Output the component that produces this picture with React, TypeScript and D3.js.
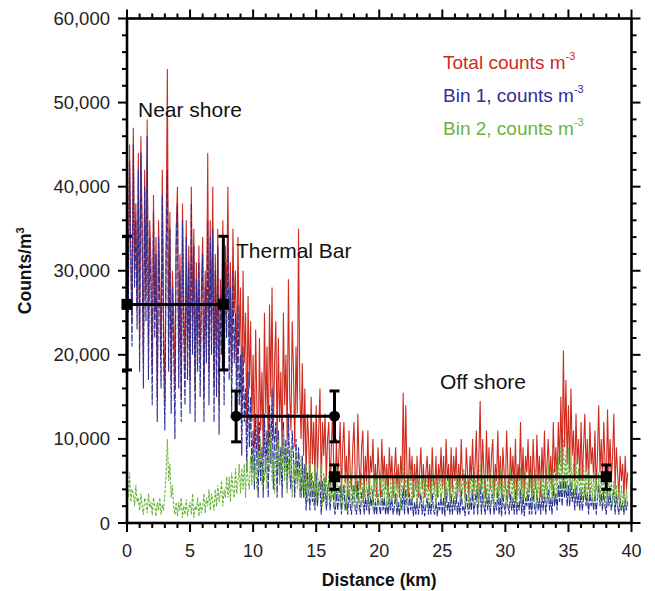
import React from "react";
import * as d3 from "d3";

// Distance grid (km), 0.1 km sampling; one row = 1 km
const STEP_KM = 0.1;

// Total counts (thousands per m^3)
const totalK: number[] = [
  40,28,45,33,24,47,30,38,26,44,
  22,46,35,19,42,27,48,21,36,31,
  18,39,25,34,15,36,29,20,42,24,
  14,33,54,22,37,17,30,25,16,35,
  40,20,32,15,38,26,18,36,21,33,
  17,40,24,35,16,31,22,33,19,28,
  34,15,30,23,44,18,36,24,40,16,
  32,20,35,14,29,24,36,19,33,26,
  40,22,31,18,35,25,30,17,34,21,
  28,13,30,19,25,11,27,16,24,12,
  20,9,23,14,7,22,11,18,8,25,
  13,21,8,26,15,28,10,19,24,9,
  22,12,18,8,25,14,20,10,29,15,
  11,24,18,9,21,13,35,16,10,19,
  8,16,5,13,10,4,15,7,12,5,
  14,6,11,16,4,12,8,13,5,10,
  12,4,9,13,6,3,10,5,8,12,
  3,9,12,5,8,3,11,6,4,9,
  12,5,3,13,7,4,9,11,3,8,
  5,11,3,8,6,10,4,7,3,9,
  6,3,10,5,8,4,7,3,9,5,
  8,3,6,9,4,7,3,8,5,15.5,
  4,14,6,3,9,5,8,3,7,4,
  8,3,6,9,4,7,3,6,8,4,
  7,3,9,5,4,8,3,7,5,9,
  4,8,3,10,5,7,3,9,4,8,
  5,9,3,7,4,10,5,6,3,9,
  6,3,8,5,10,4,7,11,3,8,
  14.5,4,10,6,3,11,5,9,4,8,
  10,3,7,5,11,4,8,3,9,6,
  4,11,6,3,9,5,8,4,10,3,
  7,5,12,4,9,3,8,6,10,4,
  8,3,10,6,4,10.5,5,8,3,9,
  5,11,4,7,10,5,8,4,12,6,
  9,5,12,7,15,6,20.5,9,17,7,
  14,6,16,8,11,5,13,7,10,5,
  12,5,9,13,6,10,4,12,7,9,
  5,11,4,8,14,6,10,5,12,7,
  4,13.5,6,10,5,8,13,4,9,6,
  3,8,5,7,3,8,4,6,
];

// Bin 1 counts (thousands per m^3)
const bin1K: number[] = [
  38,25,43,31,21,45,28,36,23,42,
  18,44,33,16,40,24,46,17,34,28,
  14,37,22,32,12,34,26,16,39,20,
  11,31,42,18,35,13,28,21,10,33,
  38,16,30,12,36,22,14,34,17,31,
  13,38,20,33,12,29,18,31,15,26,
  32,12,28,19,36,14,34,20,35,12,
  30,15,33,10.5,27,20,34,14,31,22,
  34,17,28,13,30,19,25,12,26,14,
  20,8,21,12,16,6,18,9,15,6,
  11,4,13,7,3,12,5,9,3,13,
  6,11,3,14,7,16,4,10,12,3,
  11,5,9,3,12,6,10,4,13,6,
  4,11,8,3,10,5,9,6,3,8,
  3,7,1.5,6,4,1.5,6,2.5,5,1.5,
  6,2,4.5,5,1,5,2.5,5.5,1.5,4,
  5,1.5,3.5,5,2,1,4,1.5,3,4.5,
  1,3.5,4.5,1.5,3,1,4,2,1,3.5,
  4.5,1.5,1,5,2.5,1,3.5,4,1,3,
  1.5,4,1,3,2,4,1,2.5,1,3.5,
  2,1,4,1.5,3,1,2.5,1,3.5,1.5,
  3,1,2,3.5,1,2.5,0.8,3,1.5,4.5,
  1,4,2,1,3.5,1.5,3,0.8,2.5,1,
  3,1,2,3.5,1,2.5,0.8,2,3,1,
  2.5,1,3.5,1.5,1,3,0.8,2.5,1.5,3.5,
  1,3,0.8,4,1.5,2.5,1,3.5,1,3,
  1.5,3.5,1,2.5,1,4,1.5,2,0.8,3.5,
  2,1,3,1.5,4,1,2.5,4,1,3,
  4.5,1,3.5,2,1,4,1.5,3.5,1,3,
  3.5,1,2.5,1.5,4,1,3,0.8,3.5,2,
  1,4,2,1,3.5,1.5,3,1,4,1,
  2.5,1.5,4,1,3.5,0.8,3,2,4,1,
  3,1,4,2,1,4,1.5,3,1,3.5,
  1.5,4,1,2.5,4,1.5,3,1,4.5,2,
  3.5,1.5,4.5,2.5,5,2,5.5,3,5,2,
  4.5,2,5,2.5,4,1.5,4.5,2,3.5,1.5,
  4,1.5,3,4.5,2,3.5,1,4,2,3,
  1.5,4,1,3,4.5,2,3.5,1.5,4,2,
  1,4,2,3.5,1.5,3,4,1,3.5,2,
  1,3,1.5,2.5,1,3,1.5,2.5,
];

// Bin 2 counts (thousands per m^3)
const bin2K: number[] = [
  5,3,6,2.5,4,3.5,2,4.5,2.5,3,
  1.5,3.5,2,1,3,2.5,1.2,3.5,1.8,2.5,
  1,3,2,0.8,2.5,1.5,3,1,2.2,1.5,
  3.5,6,10,5,7,3,4.5,2,1,2.5,
  0.8,2.5,1.5,3,0.6,2,1,2.8,0.8,1.8,
  2.5,1,3.5,0.6,2,1.5,3,0.8,2.5,1.2,
  2,3.5,1.2,3,2,4,1.5,3.5,2.5,1.5,
  4,2,4.5,2.5,3.5,5,2,4,3,5.5,
  3,5.5,2.5,6,4,3,6.5,3.5,5,7,
  3.5,6.5,4,7,3,7.5,5,4,8,4.5,
  9,5,7,4,8.5,6,10,4.5,7.5,5,
  8,4,9.5,6,11,5,8,3.5,9,6,
  10,4.5,8,6,11,5,9,3.5,7.5,5.5,
  9,3,7,5,8.5,4,6.5,3,8,4,
  6.5,3,7,2.5,5,8,3,6,2,7,
  2.5,6.5,3,5,7,2,6,3.5,5.5,2,
  6,2.5,7,3,5,2,6.5,3,4.5,2,
  5.5,2,4,6,1.5,5,3,6.5,2,4.5,
  2,6,3.5,1.5,5.5,3,6,2,4.5,3,
  5,2,6,3,4.5,1.5,5.5,2.5,6,2,
  4,6,2,5,3,6.5,2,4.5,1.5,5.5,
  2.5,5,3,6,2,4.5,6,1.5,5,7,
  3,6,2,5,3.5,6.5,2,5,3,6,
  2,5,3,4.5,6,2,5,3,5.5,2,
  5,2.5,6,3,4.5,2,5.5,3,6,2.5,
  4,6,2,5,3,5.5,2,6,3,4.5,
  2,5.5,3,6,2.5,5,3.5,6.5,2,5,
  4.5,2,6,3,5.5,2,6,3.5,5,2,
  7,3,5.5,2,6,3,5,2,6.5,3,
  5.5,2,6,3,5,2.5,6.5,2,5,3,
  6,2,5,3.5,6.5,2,5.5,3,6,2,
  5,3,6.5,2,5.5,3,6,2.5,5,3,
  6,2,5.5,3,6.5,2,5,3,6,2.5,
  5.5,3,6,2.5,7,3,6,2.5,6.5,3,
  7,3,8,4,9,3.5,10,4,8.5,3.5,
  9,3,8,4,7,3,7.5,3.5,6.5,3,
  6,2.5,7,3,6,2,6.5,3,5.5,2.5,
  6,2.5,5.5,3,6,2,5.5,3,6,2,
  5,2,6,3,5.5,2,5,2.5,4.5,2,
  4,1.5,4.5,2,3.5,1.5,4,2,
];

// Zone means with error bars
const zoneNames = ["Near shore", "Thermal Bar", "Off shore"];
const zoneStart = [0, 8.65, 16.45];
const zoneEnd = [7.64, 16.45, 38.0];
const zoneMean = [26000, 12700, 5500];
const zoneLow = [18200, 9650, 4000];
const zoneHigh = [34100, 15700, 6900];
const zoneMarker = ["square", "circle", "square"];

const xTickLabels = [0, 5, 10, 15, 20, 25, 30, 35, 40];
const yTickLabels = [0, 10000, 20000, 30000, 40000, 50000, 60000];

const FONT = "'Liberation Sans', Arial, Helvetica, sans-serif";
const RED = "#cf2b1f";
const BLUE = "#2d3096";
const GREEN = "#6cb33e";

export default function App() {
  const x = d3.scaleLinear().domain([0, 40]).range([127, 631.5]);
  const y = d3.scaleLinear().domain([0, 60000]).range([523, 18.5]);
  const line = d3
    .line<number>()
    .x((_, i) => x(i * STEP_KM))
    .y((v) => y(v * 1000));

  const minorX = d3.range(0, 41, 1);
  const minorY = d3.range(0, 60001, 2000);
  const [x0, x1] = x.range();
  const [yb, yt] = y.range();
  const fmt = d3.format(",");

  return (
    <div style={{ position: "absolute", left: 0, top: 0 }}>
      <svg width={655} height={591} style={{ display: "block", fontFamily: FONT }}>
        <rect width={655} height={591} fill="#fff" />
        {/* data */}
        <path d={line(totalK) || ""} fill="none" stroke={RED} strokeWidth={1.1} />
        <path d={line(bin1K) || ""} fill="none" stroke={BLUE} strokeWidth={1.1} strokeDasharray="7,1.5" />
        <path d={line(bin2K) || ""} fill="none" stroke={GREEN} strokeWidth={1.1} strokeDasharray="3,1.5" />

        {/* frame */}
        <rect x={x0} y={yt} width={x1 - x0} height={yb - yt} fill="none" stroke="#000" strokeWidth={2.6} />
        {minorX.map((k) => {
          const major = k % 5 === 0;
          const len = major ? 9 : 5;
          return (
            <g key={"xt" + k}>
              <line x1={x(k)} x2={x(k)} y1={yb} y2={yb + len} stroke="#000" strokeWidth={2} />
              <line x1={x(k)} x2={x(k)} y1={yt} y2={yt - len} stroke="#000" strokeWidth={2} />
            </g>
          );
        })}
        {minorY.map((v) => {
          const major = v % 10000 === 0;
          const len = major ? 9 : 5;
          return (
            <g key={"yt" + v}>
              <line x1={x0} x2={x0 - len} y1={y(v)} y2={y(v)} stroke="#000" strokeWidth={2} />
              <line x1={x1} x2={x1 + len} y1={y(v)} y2={y(v)} stroke="#000" strokeWidth={2} />
            </g>
          );
        })}
        {xTickLabels.map((k) => (
          <text key={"xl" + k} x={x(k)} y={557} textAnchor="middle" fontSize={18} fill="#222">
            {k}
          </text>
        ))}
        {yTickLabels.map((v) => (
          <text key={"yl" + v} x={110} y={y(v) + 6.5} textAnchor="end" fontSize={18.5} fill="#222">
            {fmt(v)}
          </text>
        ))}
        <text x={(x0 + x1) / 2} y={586} textAnchor="middle" fontSize={17.5} fontWeight="bold" fill="#111">
          Distance (km)
        </text>
        <text
          transform={`translate(31,${(yt + yb) / 2}) rotate(-90)`}
          textAnchor="middle"
          fontSize={17.5}
          fontWeight="bold"
          fill="#111"
        >
          Counts/m<tspan dy={-7} fontSize={11}>3</tspan>
        </text>

        {/* zone means with error bars */}
        {zoneMean.map((m, i) => {
          const xs = [zoneStart[i], zoneEnd[i]];
          return (
            <g key={"z" + i}>
              <line x1={x(xs[0])} x2={x(xs[1])} y1={y(m)} y2={y(m)} stroke="#000" strokeWidth={3} />
              {xs.map((xv, j) => (
                <g key={j}>
                  <line x1={x(xv)} x2={x(xv)} y1={y(zoneLow[i])} y2={y(zoneHigh[i])} stroke="#000" strokeWidth={3} />
                  <line x1={x(xv) - 5} x2={x(xv) + 5} y1={y(zoneLow[i])} y2={y(zoneLow[i])} stroke="#000" strokeWidth={3} />
                  <line x1={x(xv) - 5} x2={x(xv) + 5} y1={y(zoneHigh[i])} y2={y(zoneHigh[i])} stroke="#000" strokeWidth={3} />
                  {zoneMarker[i] === "square" ? (
                    <rect x={x(xv) - 5.5} y={y(m) - 5.5} width={11} height={11} fill="#000" />
                  ) : (
                    <circle cx={x(xv)} cy={y(m)} r={5.5} fill="#000" />
                  )}
                </g>
              ))}
            </g>
          );
        })}

        {/* annotations */}
        <text x={138} y={117} fontSize={21} fill="#111">{zoneNames[0]}</text>
        <text x={236} y={258} fontSize={21} fill="#111">{zoneNames[1]}</text>
        <text x={440} y={389} fontSize={21} fill="#111">{zoneNames[2]}</text>

        {/* legend */}
        <text x={443} y={69} fontSize={19} fill={RED}>
          Total counts m<tspan dy={-9} fontSize={11}>-3</tspan>
        </text>
        <text x={443} y={102} fontSize={19} fill={BLUE}>
          Bin 1, counts m<tspan dy={-9} fontSize={11}>-3</tspan>
        </text>
        <text x={443} y={135} fontSize={19} fill={GREEN}>
          Bin 2, counts m<tspan dy={-9} fontSize={11}>-3</tspan>
        </text>
      </svg>
    </div>
  );
}
